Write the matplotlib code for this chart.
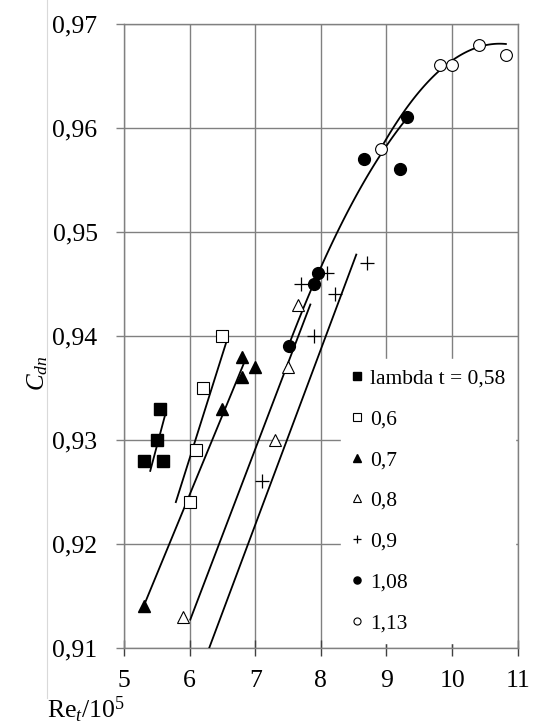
import numpy as np
import matplotlib
matplotlib.use("Agg")
import matplotlib.pyplot as plt
from matplotlib.lines import Line2D

plt.rcParams['font.family'] = ['Liberation Serif', 'DejaVu Serif']
plt.rcParams['mathtext.fontset'] = 'custom'
plt.rcParams['mathtext.rm'] = 'Liberation Serif'
plt.rcParams['mathtext.it'] = 'Liberation Serif:italic'

# точки по сериям (lambda t)
x_058 = [5.3, 5.5, 5.55, 5.6]
y_058 = [0.928, 0.930, 0.933, 0.928]
x_06 = [6.0, 6.1, 6.2, 6.5]
y_06 = [0.924, 0.929, 0.935, 0.940]
x_07 = [5.3, 6.5, 6.8, 6.8, 7.0]
y_07 = [0.914, 0.933, 0.936, 0.938, 0.937]
x_08 = [5.9, 7.3, 7.5, 7.65]
y_08 = [0.913, 0.930, 0.937, 0.943]
x_09 = [7.1, 7.7, 7.9, 8.1, 8.21, 8.7]
y_09 = [0.926, 0.945, 0.940, 0.946, 0.944, 0.947]
x_108 = [7.51, 7.9, 7.96, 8.65, 9.2, 9.32]
y_108 = [0.939, 0.945, 0.946, 0.957, 0.956, 0.961]
x_113 = [8.91, 9.81, 10.0, 10.41, 10.82]
y_113 = [0.958, 0.966, 0.966, 0.968, 0.967]

# прямые (концы отрезков)
lx_058 = [5.40, 5.64]
ly_058 = [0.927, 0.9327]
lx_06 = [5.79, 6.57]
ly_06 = [0.924, 0.9396]
lx_07 = [5.3, 6.85]
ly_07 = [0.914, 0.9377]
lx_08 = [6.01, 7.84]
ly_08 = [0.9127, 0.943]
lx_09 = [6.30, 8.54]
ly_09 = [0.910, 0.9478]

# кривые (точки)
cx_108 = [7.51, 8.02, 8.30, 8.45, 9.32]
cy_108 = [0.939, 0.9471, 0.9505, 0.9523, 0.961]
cx_113 = [8.91, 9.49, 9.81, 10.33, 10.82]
cy_113 = [0.958, 0.9633, 0.9655, 0.9677, 0.968]

labels = ['lambda t = 0,58', '0,6', '0,7', '0,8', '0,9', '1,08', '1,13']
xticks = [5, 6, 7, 8, 9, 10, 11]
yticks = [0.91, 0.92, 0.93, 0.94, 0.95, 0.96, 0.97]
ytick_labels = ['0,91', '0,92', '0,93', '0,94', '0,95', '0,96', '0,97']

fig = plt.figure(figsize=(5.33, 7.24), dpi=100)
ax = fig.add_axes([124/533, 1-647.7/724, (517.7-124)/533, (647.7-23.7)/724])

lw = 1.3
for lx, ly in [(lx_058, ly_058), (lx_06, ly_06), (lx_07, ly_07), (lx_08, ly_08), (lx_09, ly_09)]:
    ax.plot(lx, ly, color='black', lw=lw, zorder=3)

for cx, cy in [(cx_108, cy_108), (cx_113, cy_113)]:
    k = np.polyfit(cx, cy, 2)
    xs = np.linspace(cx[0], cx[-1], 100)
    ax.plot(xs, np.polyval(k, xs), color='black', lw=lw, zorder=3)

ms = 8.5
ax.plot(x_058, y_058, 's', color='black', ms=ms, ls='none', label=labels[0], zorder=4)
ax.plot(x_06, y_06, 's', mfc='white', mec='black', mew=0.8, ms=ms, ls='none', label=labels[1], zorder=4)
ax.plot(x_07, y_07, '^', color='black', ms=ms, ls='none', label=labels[2], zorder=4)
ax.plot(x_08, y_08, '^', mfc='white', mec='black', mew=0.8, ms=ms, ls='none', label=labels[3], zorder=4)
ax.plot(x_09, y_09, '+', color='black', mew=0.9, ms=ms+2, ls='none', label=labels[4], zorder=4)
ax.plot(x_108, y_108, 'o', color='black', ms=ms, ls='none', label=labels[5], zorder=4)
ax.plot(x_113, y_113, 'o', mfc='white', mec='black', mew=0.8, ms=ms, ls='none', label=labels[6], zorder=4)

ax.set_xlim(5, 11)
ax.set_ylim(0.91, 0.97)
ax.set_xticks(xticks)
ax.set_xticklabels([str(v) for v in xticks])
ax.set_yticks(yticks)
ax.set_yticklabels(ytick_labels)
ax.tick_params(axis='y', direction='out', length=6, width=1, color='#808080', pad=13, labelsize=18.5)
ax.tick_params(axis='x', direction='inout', length=12, width=1, color='#404040', pad=10, labelsize=18.5)
ax.grid(True, color='#808080', lw=1)
ax.set_axisbelow(True)
for s in ax.spines.values():
    s.set_color('#808080')
    s.set_linewidth(1)

leg = ax.legend(loc='upper left', bbox_to_anchor=((341-124)/393.7, (647.7-359)/624),
                borderaxespad=0, frameon=True, fancybox=False, edgecolor='white',
                framealpha=1, fontsize=15.5, markerscale=0.6, handlelength=0.6,
                handletextpad=0.3, labelspacing=0.96, borderpad=0.45)

fig.text(38/533, 1-373/724, r'$C_{dn}$', rotation=90, ha='center', va='center', fontsize=18)
fig.text(47/533, 1-710/724, r'Re$_{t}$/10$^{5}$', ha='left', va='center', fontsize=18.5)
fig.add_artist(Line2D([46.5/533, 46.5/533], [1-698/724, 1], color='#d9d9d9', lw=0.8))

fig.savefig('out.png', dpi=100)
